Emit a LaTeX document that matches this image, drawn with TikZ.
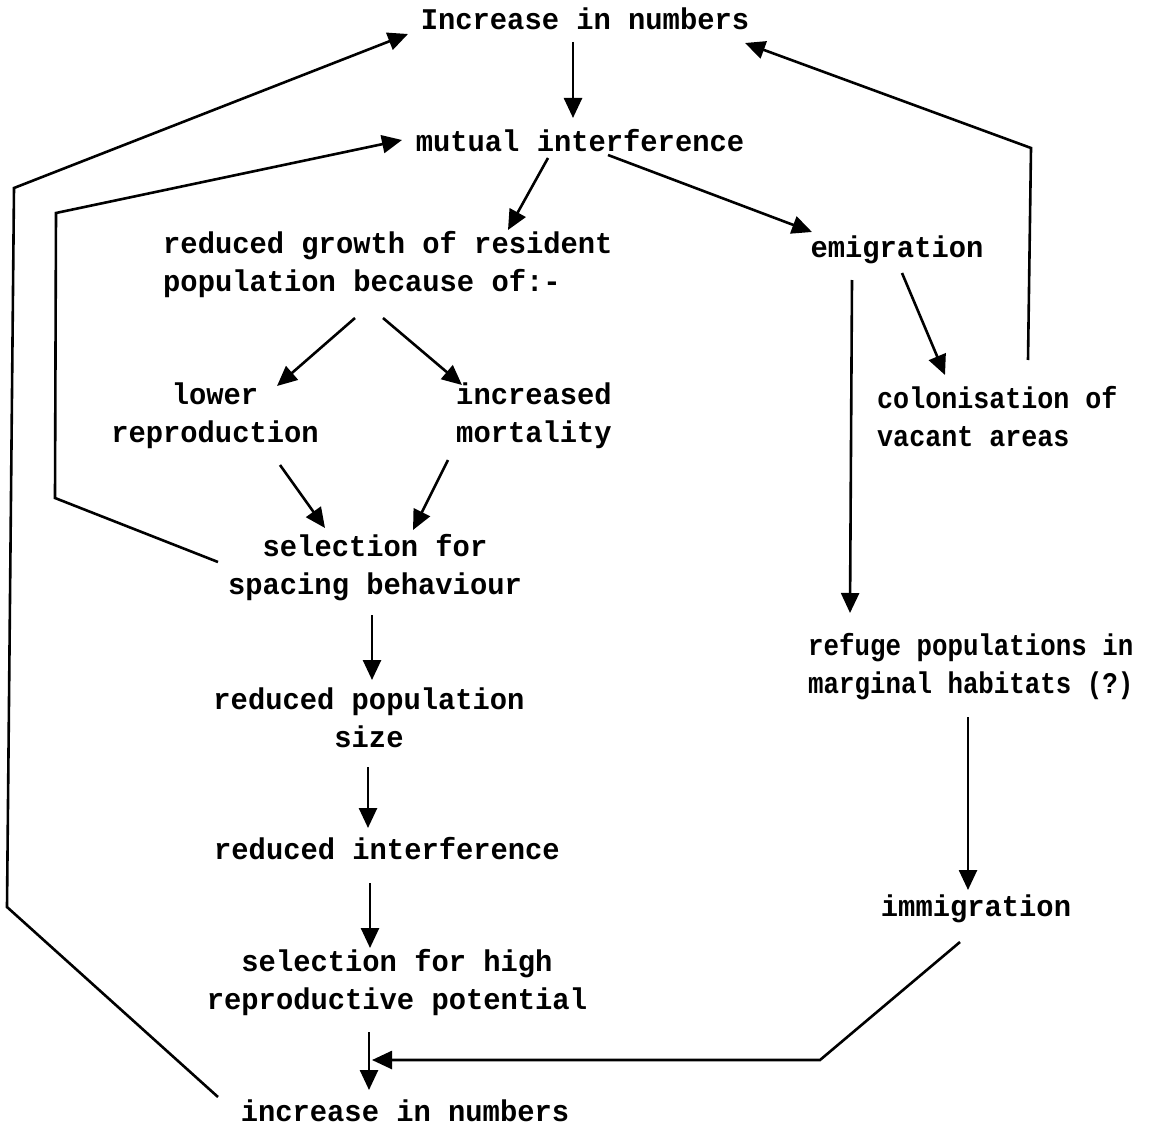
\documentclass[tikz,border=0pt]{standalone}
\usepackage{fontspec}
\setmainfont{Liberation Mono}[FakeStretch=0.96]
\newfontfamily\monoA{Liberation Mono}[FakeStretch=0.86]
\newfontfamily\monoB{Liberation Mono}[FakeStretch=0.89]
\usetikzlibrary{arrows.meta}
\begin{document}
\begin{tikzpicture}[x=1pt,y=-1pt,
  lbl/.style={inner sep=0pt, anchor=base, align=center, font=\fontsize{30}{38}\selectfont\bfseries},
  lblL/.style={lbl, anchor=base west, align=left},
  arr/.style={line width=2.6pt, line join=miter, -{Triangle[length=20pt,width=18pt]}},
  link/.style={line width=2.6pt, line join=miter}]
\useasboundingbox (0,0) rectangle (1164,1129);

% nodes (base = baseline of the last line)
\node[lbl] (inc) at (585,30) {Increase in numbers};
\node[lbl] (mut) at (580,151) {mutual interference};
\node[lblL] (grow) at (163,291) {reduced growth of resident\\population because of:-};
\node[lbl] (emi) at (897,257) {emigration};
\node[lbl] (lower) at (215,442) {lower\\reproduction};
\node[lbl] (incr) at (534,442) {increased\\mortality};
\node[lblL, font=\fontsize{30}{38}\monoB\bfseries] (colon) at (877,446) {colonisation of\\vacant areas};
\node[lbl] (spac) at (375,594) {selection for\\spacing behaviour};
\node[lblL, font=\fontsize{30}{38}\monoA\bfseries] (refuge) at (808,693) {refuge populations in\\marginal habitats (?)};
\node[lbl] (rpop) at (369,747) {reduced population\\size};
\node[lbl] (rint) at (387,859) {reduced interference};
\node[lbl] (immi) at (976,916) {immigration};
\node[lbl] (shigh) at (397,1009) {selection for high\\reproductive potential};
\node[lbl] (incb) at (405,1121) {increase in numbers};

% connectors
\draw[arr] ([shift={(-12,12)}]inc.base) -- ([shift={(-7,-33)}]mut.base);
\draw[arr] ([shift={(-32,7)}]mut.base) -- ([shift={(345,-61)}]grow.base west);
\draw[arr] ([shift={(28,4)}]mut.base) -- ([shift={(-85,-25)}]emi.base);
\draw[arr] ([shift={(192,27)}]grow.base west) -- ([shift={(62,-56)}]lower.base);
\draw[arr] ([shift={(220,27)}]grow.base west) -- ([shift={(-72,-57)}]incr.base);
\draw[arr] ([shift={(5,16)}]emi.base) -- ([shift={(68,-71)}]colon.base west);
\draw[arr] ([shift={(-45,23)}]emi.base) -- ([shift={(42,-80)}]refuge.base west);
\draw[arr] ([shift={(151,-86)}]colon.base west) -- ++(3,-212) -- ([shift={(160,13)}]inc.base);
\draw[arr] ([shift={(65,23)}]lower.base) -- ([shift={(-50,-66)}]spac.base);
\draw[arr] ([shift={(-86,18)}]incr.base) -- ([shift={(38,-64)}]spac.base);
\draw[arr] ([shift={(-157,-32)}]spac.base) -- ++(-163,-64) -- ++(1,-285) -- ([shift={(-178,-11)}]mut.base);
\draw[arr] ([shift={(-3,21)}]spac.base) -- ([shift={(3,-67)}]rpop.base);
\draw[arr] ([shift={(-1,20)}]rpop.base) -- ([shift={(-19,-31)}]rint.base);
\draw[arr] ([shift={(-17,24)}]rint.base) -- ([shift={(-27,-61)}]shigh.base);
\draw[arr] ([shift={(-28,23)}]shigh.base) -- ([shift={(-36,-31)}]incb.base);
\draw[arr] ([shift={(-16,26)}]immi.base) -- ++(-140,118) -- ([shift={(-33,-61)}]incb.base);
\draw[arr] ([shift={(160,24)}]refuge.base west) -- ([shift={(-8,-26)}]immi.base);
\draw[arr] ([shift={(-187,-24)}]incb.base) -- ++(-211,-190) -- ++(7,-719) -- ([shift={(-177,4)}]inc.base);
\end{tikzpicture}
\end{document}
